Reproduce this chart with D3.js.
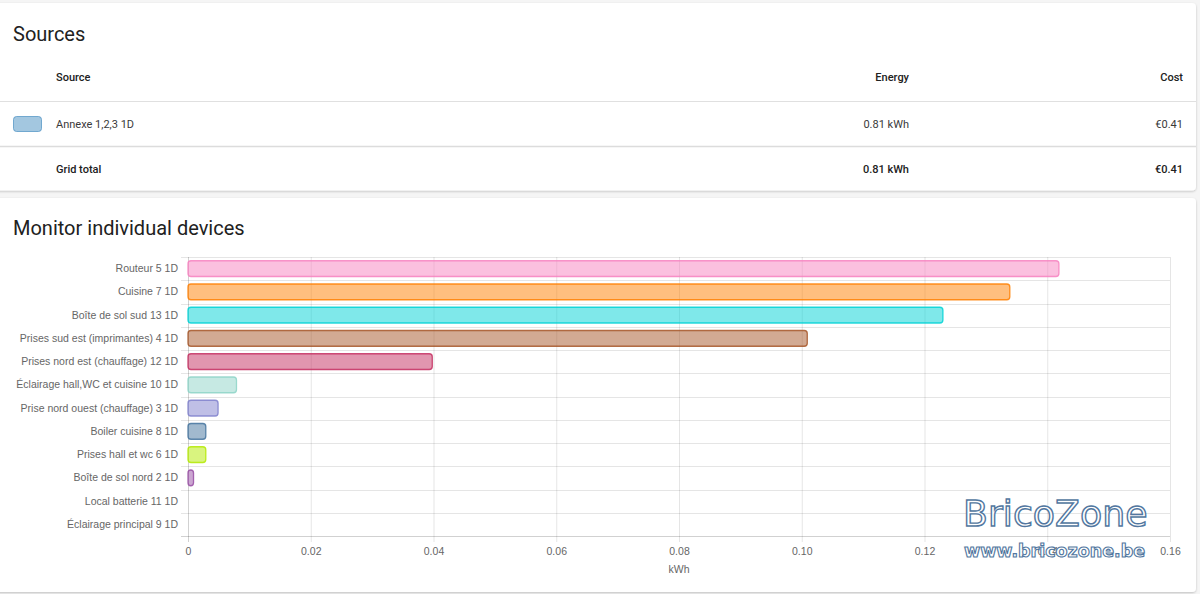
<!DOCTYPE html>
<html>
<head>
<meta charset="utf-8">
<script src="https://cdn.jsdelivr.net/npm/d3@7"></script>
<style>
  html, body { margin: 0; padding: 0; background: #f5f5f5; }
  svg { display: block; }
</style>
</head>
<body>
<svg id="chart" width="1200" height="594"></svg>
<script>
// ---------- Data ----------
const sourceHeaders = ["Source", "Energy", "Cost"];
const sourceNames = ["Annexe 1,2,3 1D"];
const sourceEnergy = ["0.81 kWh"];
const sourceCost = ["€0.41"];
const sourceColors = ["#488fc2"];
const gridTotal = ["Grid total", "0.81 kWh", "€0.41"];

const categories = [
  "Routeur 5 1D",
  "Cuisine 7 1D",
  "Boîte de sol sud 13 1D",
  "Prises sud est (imprimantes) 4 1D",
  "Prises nord est (chauffage) 12 1D",
  "Éclairage hall,WC et cuisine 10 1D",
  "Prise nord ouest (chauffage) 3 1D",
  "Boiler cuisine 8 1D",
  "Prises hall et wc 6 1D",
  "Boîte de sol nord 2 1D",
  "Local batterie 11 1D",
  "Éclairage principal 9 1D"
];
const values = [0.1419, 0.1339, 0.1230, 0.1009, 0.0398, 0.0079, 0.0049, 0.0029, 0.0029, 0.0009, 0, 0];
const barColors = ["#f781bf", "#ff7f00", "#00d2d5", "#a65628", "#c42e60", "#8dd3c7",
                   "#7f80cd", "#44739e", "#b3e900", "#984ea3", "#af8d00", "#c4eaff"];
const xTicks = [0, 0.02, 0.04, 0.06, 0.08, 0.10, 0.12, 0.14, 0.16];
const xTickLabels = ["0", "0.02", "0.04", "0.06", "0.08", "0.10", "0.12", "0.14", "0.16"];
const xAxisTitle = "kWh";
const titles = ["Sources", "Monitor individual devices"];
const watermark = ["BricoZone", "www.bricozone.be"];

// ---------- Drawing ----------
const svg = d3.select("#chart");
const defs = svg.append("defs");
const f = defs.append("filter").attr("id", "shadow").attr("x", "-5%").attr("y", "-5%").attr("width", "110%").attr("height", "115%");
f.append("feDropShadow").attr("dx", 0).attr("dy", 1).attr("stdDeviation", 1.2).attr("flood-color", "#000").attr("flood-opacity", 0.22);

// cards
svg.append("rect").attr("x", -6).attr("y", 3).attr("width", 1202).attr("height", 187.5).attr("rx", 4).attr("fill", "#fff").attr("filter", "url(#shadow)");
svg.append("rect").attr("x", -6).attr("y", 198).attr("width", 1202).attr("height", 394).attr("rx", 4).attr("fill", "#fff").attr("filter", "url(#shadow)");

const roboto = "Roboto, 'Noto Sans', sans-serif";
const chartFont = "'Liberation Sans', Arial, Helvetica, sans-serif";

// titles
svg.append("text").attr("x", 13).attr("y", 41).attr("font-family", roboto).attr("font-size", 20).attr("fill", "#212121").text(titles[0]);
svg.append("text").attr("x", 13).attr("y", 235).attr("font-family", roboto).attr("font-size", 20).attr("fill", "#212121").text(titles[1]);

// table
const colX = [56, 909, 1183];
const colAnchor = ["start", "end", "end"];
const table = svg.append("g").attr("font-family", roboto).attr("font-size", 11).attr("fill", "#212121");
sourceHeaders.forEach((h, i) => {
  table.append("text").attr("x", colX[i]).attr("y", 81).attr("text-anchor", colAnchor[i]).attr("font-weight", 500).text(h);
});
svg.append("line").attr("x1", 0).attr("x2", 1196).attr("y1", 101.5).attr("y2", 101.5).attr("stroke", "#e0e0e0").attr("stroke-width", 1);
sourceNames.forEach((n, i) => {
  const yb = 128 + i * 45;
  const c = d3.color(sourceColors[i]);
  const fill = d3.color(sourceColors[i]); fill.opacity = 0.5;
  svg.append("rect").attr("x", 13.5).attr("y", 116.5).attr("width", 28).attr("height", 15).attr("rx", 3)
    .attr("fill", fill.toString()).attr("stroke", c.toString()).attr("stroke-opacity", 0.7).attr("stroke-width", 1);
  table.append("text").attr("x", colX[0]).attr("y", yb).attr("fill", "#3a3a3a").text(n);
  table.append("text").attr("x", colX[1]).attr("y", yb).attr("text-anchor", "end").attr("fill", "#3a3a3a").text(sourceEnergy[i]);
  table.append("text").attr("x", colX[2]).attr("y", yb).attr("text-anchor", "end").attr("fill", "#3a3a3a").text(sourceCost[i]);
});
svg.append("line").attr("x1", 0).attr("x2", 1196).attr("y1", 146.5).attr("y2", 146.5).attr("stroke", "#dcdcdc").attr("stroke-width", 1.6);
gridTotal.forEach((t, i) => {
  table.append("text").attr("x", colX[i]).attr("y", 173).attr("text-anchor", colAnchor[i]).attr("font-weight", 500).text(t);
});

// chart
const plot = { left: 188, right: 1170, top: 257, bottom: 536 };
const x = d3.scaleLinear().domain([0, 0.16]).range([plot.left, plot.right]);
const y = d3.scaleBand().domain(categories).range([plot.top, plot.bottom]).padding(0);
const bw = y.bandwidth();
const gridColor = "rgba(0,0,0,0.1)";

const g = svg.append("g");
// horizontal gridlines at band edges
const edges = categories.map(c => y(c)).concat([plot.bottom]);
g.selectAll("line.hg").data(edges).join("line")
  .attr("x1", plot.left - 7).attr("x2", plot.right)
  .attr("y1", d => Math.round(d) + 0.5).attr("y2", d => Math.round(d) + 0.5)
  .attr("stroke", (d, i) => i === edges.length - 1 ? "rgba(0,0,0,0.18)" : gridColor);

// x axis with gridlines
const xAxis = d3.axisBottom(x).tickValues(xTicks).tickFormat((d, i) => xTickLabels[i])
  .tickSizeInner(-(plot.bottom - plot.top + 6)).tickSizeOuter(0).tickPadding(6);
const xg = svg.append("g").attr("transform", `translate(0,${plot.bottom + 6})`).call(xAxis);
xg.select(".domain").remove();
xg.selectAll(".tick line").attr("stroke", (d, i) => i === 0 ? "rgba(0,0,0,0.18)" : gridColor);
xg.selectAll(".tick text").attr("font-family", chartFont).attr("font-size", 10.5).attr("fill", "#666");

// y axis labels
const yAxis = d3.axisLeft(y).tickSize(0).tickPadding(10);
const yg = svg.append("g").attr("transform", `translate(${plot.left},0)`).call(yAxis);
yg.select(".domain").remove();
yg.selectAll(".tick text").attr("font-family", chartFont).attr("font-size", 10.5).attr("fill", "#666");

// bars
const data = categories.map((c, i) => ({ c, v: values[i], color: barColors[i] }));
svg.append("g").selectAll("rect").data(data.filter(d => d.v > 0)).join("rect")
  .attr("x", plot.left)
  .attr("y", d => y(d.c) + bw * 0.14 + 0.5)
  .attr("width", d => Math.max(0, x(d.v) - plot.left))
  .attr("height", bw * 0.72 - 1)
  .attr("rx", 3)
  .attr("fill", d => { const c = d3.color(d.color); c.opacity = 0.5; return c.toString(); })
  .attr("stroke", d => d.color)
  .attr("stroke-opacity", 0.85)
  .attr("stroke-width", 1.3);

// x axis title
svg.append("text").attr("x", (plot.left + plot.right) / 2).attr("y", 573).attr("text-anchor", "middle")
  .attr("font-family", chartFont).attr("font-size", 10.5).attr("fill", "#666").text(xAxisTitle);

// watermark
svg.append("text").attr("x", 963).attr("y", 526).attr("font-family", "'DejaVu Sans', sans-serif").attr("font-size", 36.3)
  .attr("fill", "#fff").attr("stroke", "#5277a0").attr("stroke-width", 1.4).text(watermark[0]);
svg.append("text").attr("x", 964).attr("y", 557).attr("font-family", "'DejaVu Sans', sans-serif").attr("font-weight", "bold").attr("font-size", 17.5)
  .attr("fill", "#fff").attr("stroke", "#5277a0").attr("stroke-width", 1.1).text(watermark[1]);
</script>
</body>
</html>
